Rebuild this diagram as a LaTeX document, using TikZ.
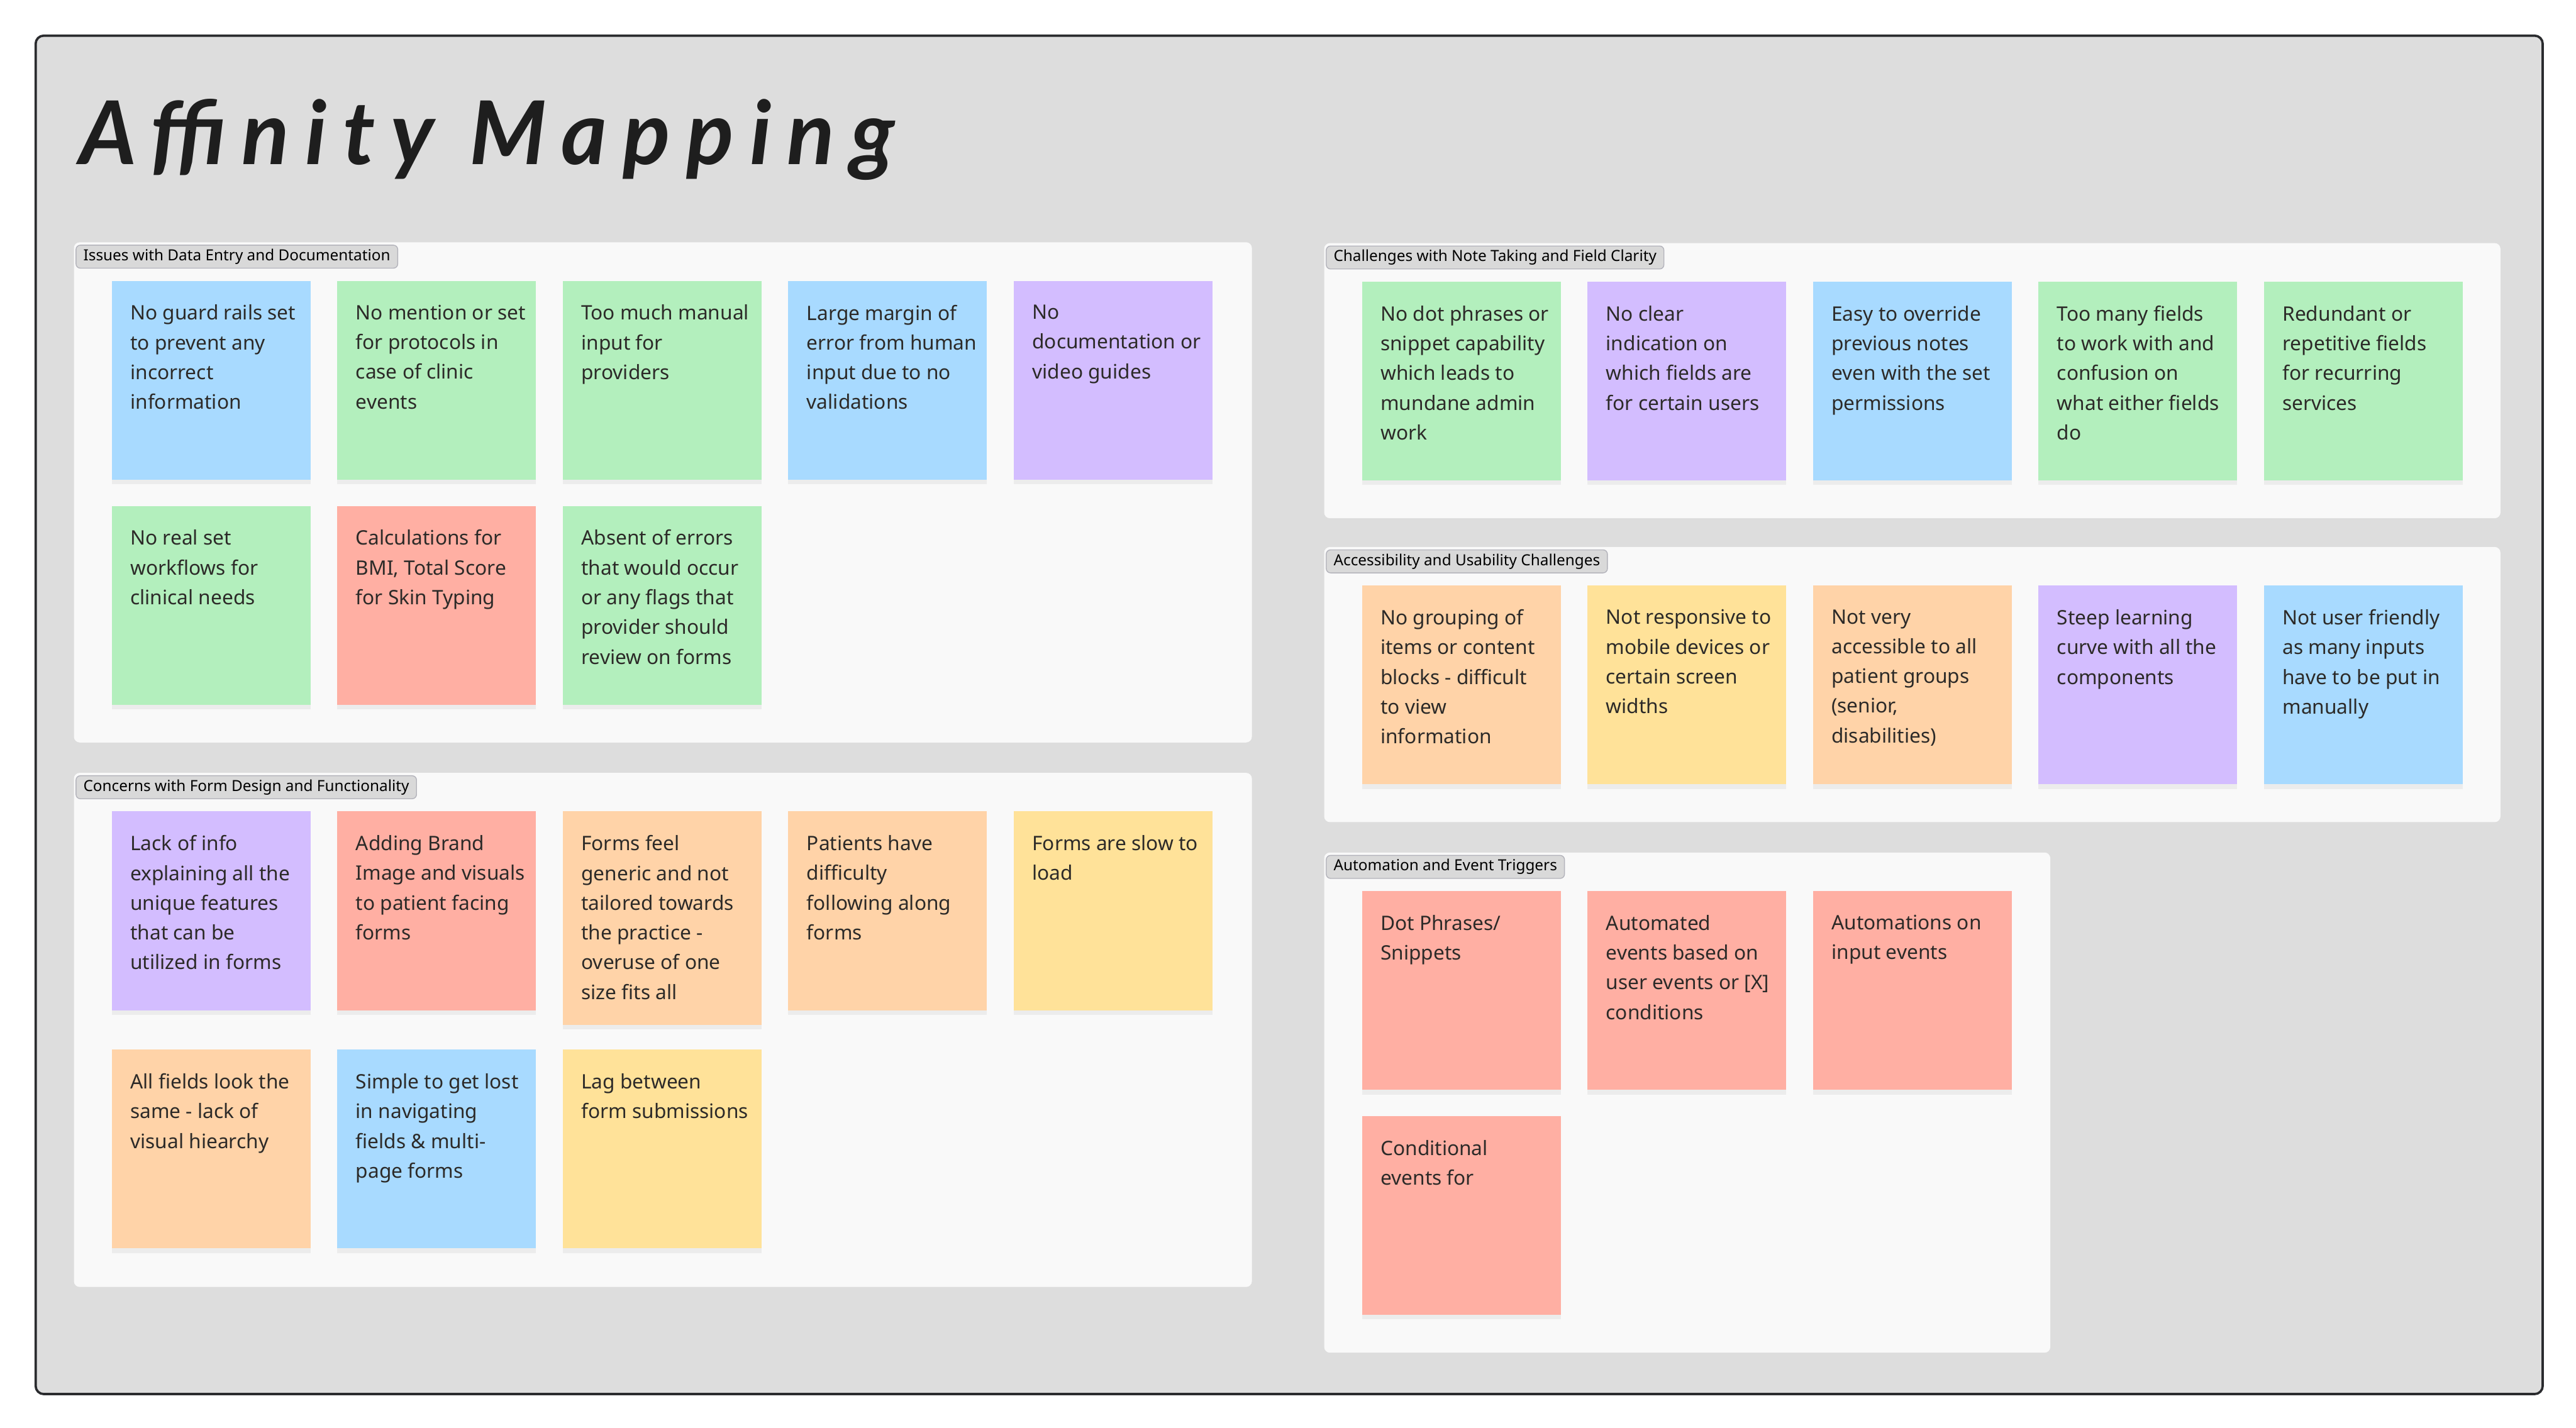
\documentclass[tikz,border=0pt]{standalone}
\usepackage{fontspec}
\setmainfont{Noto Sans}
\newfontfamily\titlefont{Lato}[LetterSpace=18]
\usetikzlibrary{positioning,shadows}

\definecolor{frameBg}{HTML}{DDDDDD}
\definecolor{frameLine}{HTML}{2A2B2E}
\definecolor{panelBg}{HTML}{F9F9F9}
\definecolor{tabBg}{HTML}{D9D9D9}
\definecolor{tabLine}{HTML}{B3B3BB}
\definecolor{ink}{HTML}{2C2A28}
\definecolor{titleInk}{HTML}{1E1E1E}
\definecolor{stBlue}{HTML}{A8DAFF}
\definecolor{stGreen}{HTML}{B3EFBD}
\definecolor{stViolet}{HTML}{D3BDFF}
\definecolor{stRed}{HTML}{FFAFA3}
\definecolor{stOrange}{HTML}{FFD3A8}
\definecolor{stYellow}{HTML}{FFE299}

\begin{document}
\begin{tikzpicture}[
  board/.style={draw=frameLine, line width=0.8pt, fill=frameBg, rounded corners=2.8pt, anchor=north west, inner sep=0pt},
  panel/.style={fill=panelBg, rounded corners=2pt, anchor=north west, inner sep=0pt, outer sep=0pt},
  tab/.style={draw=tabLine, line width=0.3pt, fill=tabBg, rounded corners=1.5pt, anchor=north west, minimum height=0.28cm, inner xsep=0.09cm, inner ysep=0pt, font=\fontsize{5.3}{6}\selectfont, text=black},
  sticky/.style={fill=#1, minimum width=2.42cm, minimum height=2.42cm, inner sep=0pt, outer sep=0pt, drop shadow={shadow xshift=0pt, shadow yshift=-1.6pt, opacity=0.10}},
  note/.style={anchor=north west, inner sep=0pt, xshift=0.22cm, yshift=-0.285cm, align=left, text=ink, font=\fontsize{6.9}{10.3}\selectfont},
  next/.style={right=0.325cm of #1.north east, anchor=north west}
]
  \useasboundingbox[fill=white] (0,0) rectangle (31.36,-17.38);
  \node[board, minimum width=30.52cm, minimum height=16.54cm] (board) at (0.42,-0.42) {};
  \node[anchor=base west, inner sep=0pt, font=\titlefont\bfseries\itshape\fontsize{30.5}{36}\selectfont, text=titleInk] (title) at (0.96,-2.0) {Affinity Mapping};

  % groups
  \node[panel, minimum width=14.34cm, minimum height=6.09cm] (p1) at (0.90,-2.95) {};
  \node[panel, minimum width=14.34cm, minimum height=6.26cm] (p2) at (0.90,-9.41) {};
  \node[panel, minimum width=14.32cm, minimum height=3.35cm] (p3) at (16.12,-2.96) {};
  \node[panel, minimum width=14.32cm, minimum height=3.35cm] (p4) at (16.12,-6.66) {};
  \node[panel, minimum width=8.84cm, minimum height=6.09cm] (p5) at (16.12,-10.38) {};

  \node[tab] (t1) at ([shift={(0.02,-0.03)}]p1.north west) {Issues with Data Entry and Documentation};
  \node[tab] (t2) at ([shift={(0.02,-0.03)}]p2.north west) {Concerns with Form Design and Functionality};
  \node[tab] (t3) at ([shift={(0.02,-0.03)}]p3.north west) {Challenges with Note Taking and Field Clarity};
  \node[tab] (t4) at ([shift={(0.02,-0.03)}]p4.north west) {Accessibility and Usability Challenges};
  \node[tab] (t5) at ([shift={(0.02,-0.03)}]p5.north west) {Automation and Event Triggers};

  % issues with data entry
  \node[sticky=stBlue, anchor=north west, label={[note]north west:{No guard rails set\\to prevent any\\incorrect\\information}}] (a1) at ([shift={(0.46,-0.47)}]p1.north west) {};
  \node[sticky=stGreen, next=a1, label={[note]north west:{No mention or set\\for protocols in\\case of clinic\\events}}] (a2) {};
  \node[sticky=stGreen, next=a2, label={[note]north west:{Too much manual\\input for\\providers}}] (a3) {};
  \node[sticky=stBlue, next=a3, label={[note]north west:{Large margin of\\error from human\\input due to no\\validations}}] (a4) {};
  \node[sticky=stViolet, next=a4, label={[note]north west:{No\\documentation or\\video guides}}] (a5) {};
  \node[sticky=stGreen, below=0.32cm of a1, label={[note]north west:{No real set\\workflows for\\clinical needs}}] (a6) {};
  \node[sticky=stRed, next=a6, label={[note]north west:{Calculations for\\BMI, Total Score\\for Skin Typing}}] (a7) {};
  \node[sticky=stGreen, next=a7, label={[note]north west:{Absent of errors\\that would occur\\or any flags that\\provider should\\review on forms}}] (a8) {};

  % form design
  \node[sticky=stViolet, anchor=north west, label={[note]north west:{Lack of info\\explaining all the\\unique features\\that can be\\utilized in forms}}] (b1) at ([shift={(0.46,-0.47)}]p2.north west) {};
  \node[sticky=stRed, next=b1, label={[note]north west:{Adding Brand\\Image and visuals\\to patient facing\\forms}}] (b2) {};
  \node[sticky=stOrange, next=b2, minimum height=2.6cm, label={[note]north west:{Forms feel\\generic and not\\tailored towards\\the practice -\\overuse of one\\size fits all}}] (b3) {};
  \node[sticky=stOrange, next=b3, label={[note]north west:{Patients have\\difficulty\\following along\\forms}}] (b4) {};
  \node[sticky=stYellow, next=b4, label={[note]north west:{Forms are slow to\\load}}] (b5) {};
  \node[sticky=stOrange, below=0.48cm of b1, label={[note]north west:{All fields look the\\same - lack of\\visual hiearchy}}] (b6) {};
  \node[sticky=stBlue, next=b6, label={[note]north west:{Simple to get lost\\in navigating\\fields \& multi-\\page forms}}] (b7) {};
  \node[sticky=stYellow, next=b7, label={[note]north west:{Lag between\\form submissions}}] (b8) {};

  % note taking
  \node[sticky=stGreen, anchor=north west, label={[note]north west:{No dot phrases or\\snippet capability\\which leads to\\mundane admin\\work}}] (c1) at ([shift={(0.46,-0.47)}]p3.north west) {};
  \node[sticky=stViolet, next=c1, label={[note]north west:{No clear\\indication on\\which fields are\\for certain users}}] (c2) {};
  \node[sticky=stBlue, next=c2, label={[note]north west:{Easy to override\\previous notes\\even with the set\\permissions}}] (c3) {};
  \node[sticky=stGreen, next=c3, label={[note]north west:{Too many fields\\to work with and\\confusion on\\what either fields\\do}}] (c4) {};
  \node[sticky=stGreen, next=c4, label={[note]north west:{Redundant or\\repetitive fields\\for recurring\\services}}] (c5) {};

  % accessibility
  \node[sticky=stOrange, anchor=north west, label={[note]north west:{No grouping of\\items or content\\blocks - difficult\\to view\\information}}] (d1) at ([shift={(0.46,-0.47)}]p4.north west) {};
  \node[sticky=stYellow, next=d1, label={[note]north west:{Not responsive to\\mobile devices or\\certain screen\\widths}}] (d2) {};
  \node[sticky=stOrange, next=d2, label={[note]north west:{Not very\\accessible to all\\patient groups\\(senior,\\disabilities)}}] (d3) {};
  \node[sticky=stViolet, next=d3, label={[note]north west:{Steep learning\\curve with all the\\components}}] (d4) {};
  \node[sticky=stBlue, next=d4, label={[note]north west:{Not user friendly\\as many inputs\\have to be put in\\manually}}] (d5) {};

  % automation
  \node[sticky=stRed, anchor=north west, label={[note]north west:{Dot Phrases/\\Snippets}}] (e1) at ([shift={(0.46,-0.47)}]p5.north west) {};
  \node[sticky=stRed, next=e1, label={[note]north west:{Automated\\events based on\\user events or [X]\\conditions}}] (e2) {};
  \node[sticky=stRed, next=e2, label={[note]north west:{Automations on\\input events}}] (e3) {};
  \node[sticky=stRed, below=0.32cm of e1, label={[note]north west:{Conditional\\events for}}] (e4) {};
\end{tikzpicture}
\end{document}
